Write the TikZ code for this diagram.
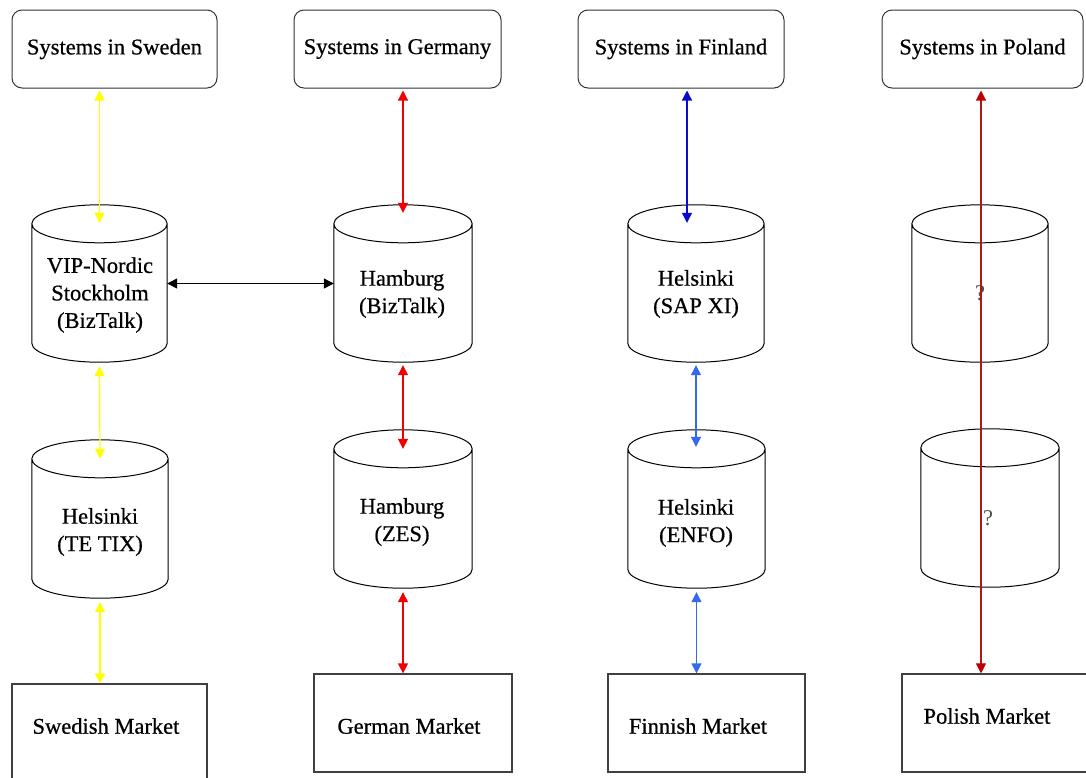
\documentclass[tikz,border=0pt]{standalone}
\usepackage{fontspec}
\setmainfont{Liberation Serif}
\newfontfamily\dfont{Liberation Serif}[FakeBold=0.6]
\usetikzlibrary{arrows.meta,calc}
\definecolor{ylw}{HTML}{FFFF00}
\definecolor{rd}{HTML}{F00000}
\definecolor{drd}{HTML}{B01818}
\definecolor{drdhead}{HTML}{C00000}
\definecolor{dblue}{HTML}{0A0AD0}
\definecolor{lblue}{HTML}{3468EE}
\definecolor{qgray}{HTML}{505050}
\begin{document}
\begin{tikzpicture}[x=1pt,y=-1pt,
  font=\dfont\fontsize{22.5}{27.5}\selectfont,
  sysbox/.style={draw=black!80, line width=1pt, rounded corners=10pt, minimum height=78pt, inner sep=0pt},
  mktbox/.style={draw=black!75, line width=1.2pt, inner sep=0pt, minimum height=98pt},
  cylbox/.style={inner sep=0pt, minimum height=157pt},
  cyl/.style={draw=black, line width=1pt},
  txt/.style={inner sep=0pt, align=center},
  qtxt/.style={inner sep=0pt, text=qgray, font=\fontsize{22.5}{27.5}\selectfont},
  link/.style={line width=1.2pt, {Triangle[length=10pt,width=10pt]}-{Triangle[length=10pt,width=10pt]}},
]
\useasboundingbox (0,0) rectangle (1086,777);
\clip (0,0) rectangle (1086,777);

% top system boxes
\node[sysbox, minimum width=205pt] (sws) at (114.5,49) {Systems in Sweden};
\node[sysbox, minimum width=207pt] (sge) at (397.5,49) {Systems in Germany};
\node[sysbox, minimum width=206pt] (sfi) at (681,49) {Systems in Finland};
\node[sysbox, minimum width=201pt] (spl) at (982.5,49) {Systems in Poland};

% cylinder nodes
\node[cylbox, minimum width=135pt] (vip) at (99.5,283.5) {};
\node[cylbox, minimum width=138pt] (hbz) at (403,283.5) {};
\node[cylbox, minimum width=136pt] (sap) at (696,283.5) {};
\node[cylbox, minimum width=136pt] (pl1) at (980,283.5) {};
\node[cylbox, minimum width=136pt, minimum height=158pt] (tix) at (100,519) {};
\node[cylbox, minimum width=138pt, minimum height=158pt] (zes) at (403,509) {};
\node[cylbox, minimum width=137pt, minimum height=158pt] (enfo) at (696.5,509) {};
\node[cylbox, minimum width=138pt, minimum height=158pt] (pl2) at (990,508) {};

\foreach \c in {vip,hbz,sap,pl1,tix,zes,enfo,pl2}{
  \draw[cyl] let \p1=(\c.west), \p2=(\c.east), \n1={(\x2-\x1)/2} in
    ($(\c.north west)+(0,19)$) -- ($(\c.south west)+(0,-19)$)
    arc[start angle=180, end angle=360, x radius=\n1, y radius=19pt]
    -- ($(\c.north east)+(0,19)$)
    ($(\c.north)+(0,19)$) ellipse[x radius=\n1, y radius=19pt];
}

% cylinder texts
\node[txt] (vipt) at (100,295) {VIP-Nordic\\Stockholm\\(BizTalk)};
\node[txt] (hbzt) at (402,294) {Hamburg\\(BizTalk)};
\node[txt] (sapt) at (696,294) {Helsinki\\(SAP XI)};
\node[qtxt] (pl1t) at (980,293) {?};
\node[txt] (tixt) at (100,532) {Helsinki\\(TE TIX)};
\node[txt] (zest) at (402,522) {Hamburg\\(ZES)};
\node[txt] (enfot) at (696,523) {Helsinki\\(ENFO)};
\node[qtxt] (pl2t) at (988,518) {?};

% market boxes
\node[mktbox, minimum width=195pt] (swm) at (109.5,733) {};
\node[mktbox, minimum width=198pt] (gem) at (413,723) {};
\node[mktbox, minimum width=197pt] (fim) at (706.5,723) {};
\node[mktbox, minimum width=198pt] (plm) at (1001,723) {};
\node[txt] (swmt) at (106,726) {Swedish Market};
\node[txt] (gemt) at (409,726) {German Market};
\node[txt] (fimt) at (698,726) {Finnish Market};
\node[txt] (plmt) at (987,716) {Polish Market};

% Sweden links
\draw[link, ylw, shorten <=2pt] (vip.north |- sws.south) -- ($(vip.north)+(0,18)$);
\draw[link, ylw, shorten <=4pt] (vip.south) -- ($(tix.north)+(0,19)$);
\draw[link, ylw, shorten <=4pt] (tix.south) -- (tix.south |- swm.north);
% Germany links
\draw[link, rd, shorten <=2pt] (hbz.north |- sge.south) -- ($(hbz.north)+(0,8)$);
\draw[link, rd, shorten <=3pt] (hbz.south) -- ($(zes.north)+(0,19)$);
\draw[link, rd, shorten <=4pt] (zes.south) -- (zes.south |- gem.north);
% Finland links
\coordinate (fx) at ($(sap.north)+(-9,0)$);
\coordinate (enfotop) at ($(enfo.north)+(0,17)$);
\draw[link, dblue, shorten <=2pt] (fx |- sfi.south) -- ($(fx)+(0,18)$);
\draw[link, lblue, shorten <=3pt] (sap.south) -- (sap.south |- enfotop);
\draw[link, lblue, shorten <=4pt] (enfo.south) -- (enfo.south |- fim.north);
% Poland link
\coordinate (px) at ($(spl.south)+(-1.5,0)$);
\draw[line width=1.1pt, drd, {Triangle[length=10pt,width=10pt,color=drdhead]}-{Triangle[length=10pt,width=10pt,color=drdhead]}, shorten <=2pt] (px) -- (px |- plm.north);
% Sweden-Germany link
\draw[link, black] (vip.east) -- (hbz.west);
\end{tikzpicture}
\end{document}
